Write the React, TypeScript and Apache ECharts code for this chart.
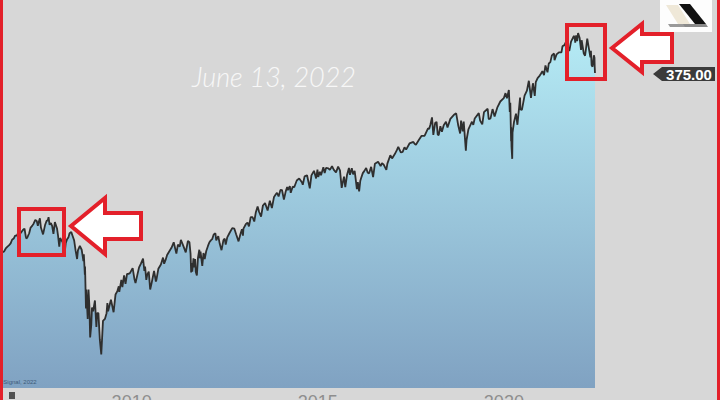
import React, { useEffect, useRef } from "react";
import * as echarts from "echarts";

const priceHistory: [string, number][] = [
  ["2006-07-19", 126.5], ["2006-08-01", 127.5], ["2006-08-15", 129.5], ["2006-09-01", 131], ["2006-09-15", 132],
  ["2006-10-02", 133.5], ["2006-10-16", 136.5], ["2006-11-01", 137.5], ["2006-11-15", 140], ["2006-12-01", 140], ["2006-12-15", 142.3],
  ["2007-01-02", 141.6], ["2007-01-16", 143], ["2007-02-01", 145], ["2007-02-15", 146], ["2007-02-27", 139.5], ["2007-03-05", 137.5],
  ["2007-03-15", 138.5], ["2007-04-02", 142], ["2007-04-16", 147], ["2007-05-01", 148.5], ["2007-05-15", 150.5], ["2007-06-01", 154],
  ["2007-06-15", 153], ["2007-06-26", 148.5], ["2007-07-02", 151], ["2007-07-16", 155.5], ["2007-07-26", 147], ["2007-08-01", 147],
  ["2007-08-16", 141], ["2007-09-04", 149], ["2007-09-19", 153], ["2007-10-01", 153.5], ["2007-10-09", 156.5], ["2007-10-19", 149.5],
  ["2007-11-01", 151], ["2007-11-13", 148.5], ["2007-11-26", 141.5], ["2007-12-10", 152], ["2007-12-31", 146.2],
  ["2008-01-02", 144.9], ["2008-01-10", 140], ["2008-01-22", 131], ["2008-01-31", 138], ["2008-02-12", 136], ["2008-02-22", 135],
  ["2008-03-10", 128.5], ["2008-03-17", 127.5], ["2008-03-26", 134], ["2008-04-08", 137], ["2008-04-21", 138.5], ["2008-05-02", 142],
  ["2008-05-19", 143], ["2008-06-02", 139.5], ["2008-06-16", 136], ["2008-06-30", 128], ["2008-07-15", 121.5], ["2008-07-23", 128],
  ["2008-08-11", 131.5], ["2008-08-29", 128.5], ["2008-09-15", 120], ["2008-09-19", 125], ["2008-09-29", 110.5], ["2008-10-01", 116],
  ["2008-10-10", 90], ["2008-10-13", 101], ["2008-10-27", 84.5], ["2008-11-04", 101], ["2008-11-13", 91], ["2008-11-20", 75.5],
  ["2008-12-01", 81.5], ["2008-12-08", 90.5], ["2008-12-19", 88.5],
  ["2009-01-06", 94.5], ["2009-01-20", 80.5], ["2009-01-28", 87.5], ["2009-02-09", 87.5], ["2009-02-23", 74.5], ["2009-03-09", 68.1],
  ["2009-03-26", 83.5], ["2009-04-14", 84.5], ["2009-04-30", 87.5], ["2009-05-08", 93], ["2009-05-15", 88.5], ["2009-06-12", 95],
  ["2009-07-08", 88], ["2009-07-27", 98], ["2009-08-14", 100], ["2009-08-28", 103], ["2009-09-02", 99.5], ["2009-09-22", 107],
  ["2009-10-02", 102.5], ["2009-10-19", 110], ["2009-11-02", 104.5], ["2009-11-17", 111], ["2009-12-01", 111], ["2009-12-15", 111.5],
  ["2010-01-11", 115], ["2010-01-29", 107.4], ["2010-02-08", 105], ["2010-02-25", 110], ["2010-03-15", 115.5], ["2010-04-01", 118],
  ["2010-04-23", 121.8], ["2010-05-06", 113], ["2010-05-13", 116], ["2010-05-25", 107], ["2010-06-03", 110.5], ["2010-06-18", 112.5],
  ["2010-07-02", 101], ["2010-07-16", 105], ["2010-08-09", 113], ["2010-08-27", 106], ["2010-09-01", 107], ["2010-09-20", 114.5],
  ["2010-10-15", 117.5], ["2010-11-05", 122.5], ["2010-11-16", 118], ["2010-12-01", 121], ["2010-12-15", 124.5],
  ["2011-01-03", 127], ["2011-01-27", 130], ["2011-02-18", 134.5], ["2011-03-16", 125.5], ["2011-03-31", 132.5], ["2011-04-18", 131],
  ["2011-04-29", 136.5], ["2011-05-23", 131.5], ["2011-06-16", 126.5], ["2011-07-07", 135.5], ["2011-07-22", 134.5], ["2011-08-02", 125.5],
  ["2011-08-08", 112], ["2011-08-12", 118.5], ["2011-08-19", 112.5], ["2011-08-31", 122], ["2011-09-09", 115.5], ["2011-09-16", 121.5],
  ["2011-09-22", 112.5], ["2011-10-03", 109.9], ["2011-10-14", 122.5], ["2011-10-27", 128.5], ["2011-11-01", 122], ["2011-11-08", 127],
  ["2011-11-25", 116.5], ["2011-12-07", 126], ["2011-12-19", 121.5],
  ["2012-01-03", 127.5], ["2012-01-20", 131.5], ["2012-02-03", 134.5], ["2012-02-17", 136], ["2012-03-01", 137], ["2012-03-16", 141],
  ["2012-04-02", 142], ["2012-04-10", 136], ["2012-04-30", 139.5], ["2012-05-15", 133], ["2012-06-01", 128.2], ["2012-06-19", 136],
  ["2012-07-02", 137.5], ["2012-07-12", 132.5], ["2012-07-27", 138.5], ["2012-08-17", 142], ["2012-09-14", 146.5], ["2012-10-05", 146],
  ["2012-10-23", 141], ["2012-11-15", 135.2], ["2012-12-03", 141.2], ["2012-12-18", 145.5], ["2012-12-28", 140],
  ["2013-01-02", 146], ["2013-01-25", 150], ["2013-02-11", 151.5], ["2013-02-25", 148], ["2013-03-14", 156.5], ["2013-04-02", 156.5],
  ["2013-04-18", 152.5], ["2013-05-03", 161], ["2013-05-21", 167], ["2013-06-05", 161.5], ["2013-06-24", 157], ["2013-07-12", 168],
  ["2013-08-02", 170.5], ["2013-08-27", 163], ["2013-09-18", 173], ["2013-10-08", 165.5], ["2013-10-29", 177], ["2013-11-14", 179.5],
  ["2013-11-27", 181.5], ["2013-12-13", 177.5], ["2013-12-31", 184.7],
  ["2014-01-15", 184.5], ["2014-02-03", 174.2], ["2014-02-21", 183], ["2014-03-07", 188], ["2014-03-14", 184.5], ["2014-04-02", 189],
  ["2014-04-11", 181.5], ["2014-04-30", 188.3], ["2014-05-15", 187.7], ["2014-06-09", 195.5], ["2014-07-03", 198], ["2014-07-31", 193.1],
  ["2014-08-07", 190.5], ["2014-08-25", 200.5], ["2014-09-18", 201.8], ["2014-10-01", 194.3], ["2014-10-15", 186.4], ["2014-10-31", 201.7],
  ["2014-11-25", 207.3], ["2014-12-16", 197.9], ["2014-12-29", 208.9],
  ["2015-01-06", 199.8], ["2015-01-22", 206], ["2015-02-02", 201.9], ["2015-02-25", 211.8], ["2015-03-10", 204.4], ["2015-03-23", 210.9],
  ["2015-04-15", 210.4], ["2015-04-30", 208.5], ["2015-05-21", 213.1], ["2015-06-08", 208.5], ["2015-06-29", 205.4], ["2015-07-20", 212.6],
  ["2015-08-07", 207.9], ["2015-08-24", 187], ["2015-09-01", 191.8], ["2015-09-16", 200.2], ["2015-09-28", 187.9], ["2015-10-15", 202],
  ["2015-11-03", 211], ["2015-11-13", 202.4], ["2015-12-01", 210.6], ["2015-12-14", 202.9], ["2015-12-29", 207.4],
  ["2016-01-04", 201.4], ["2016-01-20", 185.6], ["2016-01-29", 193.7], ["2016-02-11", 182.9], ["2016-02-22", 194.8], ["2016-03-01", 198.1],
  ["2016-03-18", 204.4], ["2016-04-01", 206.9], ["2016-04-20", 210.8], ["2016-05-05", 204.9], ["2016-05-19", 204.2], ["2016-06-08", 212.4],
  ["2016-06-27", 199.6], ["2016-07-15", 216.4], ["2016-08-15", 219.1], ["2016-09-09", 213.3], ["2016-09-22", 217.1], ["2016-10-10", 215],
  ["2016-11-04", 208.6], ["2016-11-14", 216.6], ["2016-12-13", 227.8], ["2016-12-30", 223.5],
  ["2017-01-26", 229.4], ["2017-02-15", 234.9], ["2017-03-01", 239.8], ["2017-03-27", 231.6], ["2017-04-13", 232.5], ["2017-05-01", 239],
  ["2017-05-17", 235.8], ["2017-06-19", 244.7], ["2017-07-27", 247], ["2017-08-10", 243.8], ["2017-08-21", 242.8], ["2017-09-20", 250.1],
  ["2017-10-16", 256.3], ["2017-11-15", 256.4], ["2017-12-18", 268.2], ["2017-12-29", 266.9],
  ["2018-01-10", 274.1], ["2018-01-26", 286.6], ["2018-02-08", 257.6], ["2018-02-26", 277], ["2018-03-12", 278.9], ["2018-03-23", 258],
  ["2018-04-02", 257.5], ["2018-04-18", 271.6], ["2018-05-03", 262.6], ["2018-05-21", 273.4], ["2018-06-12", 279], ["2018-06-27", 269.4],
  ["2018-07-25", 284], ["2018-08-29", 291], ["2018-09-20", 293.6], ["2018-10-11", 272.2], ["2018-10-29", 259.9], ["2018-11-07", 281],
  ["2018-11-23", 263.3], ["2018-12-03", 279.3], ["2018-12-24", 234.3], ["2018-12-31", 249.9],
  ["2019-01-18", 266.5], ["2019-02-22", 279.1], ["2019-03-07", 274], ["2019-03-21", 284.7], ["2019-04-30", 294], ["2019-05-13", 280.9],
  ["2019-06-03", 274.6], ["2019-06-20", 295.9], ["2019-07-26", 302], ["2019-08-05", 283.8], ["2019-08-14", 283.9], ["2019-08-23", 284.9],
  ["2019-09-12", 301.3], ["2019-10-02", 288.1], ["2019-10-28", 303.9], ["2019-11-27", 315.5], ["2019-12-31", 321.9],
  ["2020-01-17", 331.9], ["2020-01-31", 321.7], ["2020-02-19", 338.3], ["2020-02-28", 296.3], ["2020-03-04", 312.9], ["2020-03-12", 248.1],
  ["2020-03-13", 269.3], ["2020-03-16", 239.9], ["2020-03-23", 222.9], ["2020-03-26", 261.2], ["2020-04-09", 278.2], ["2020-04-29", 293.2],
  ["2020-05-13", 274], ["2020-06-08", 323.2], ["2020-06-11", 300.6], ["2020-06-26", 300], ["2020-07-22", 326.8], ["2020-08-14", 336.8],
  ["2020-09-02", 357.7], ["2020-09-23", 322.6], ["2020-10-12", 352.4], ["2020-10-30", 326.5], ["2020-11-09", 354.6], ["2020-11-27", 363.7],
  ["2020-12-18", 369.2], ["2020-12-31", 373.9],
  ["2021-01-13", 379.2], ["2021-01-29", 370.1], ["2021-02-12", 392.6], ["2021-03-04", 376.7], ["2021-03-17", 397.3], ["2021-04-01", 400.6],
  ["2021-04-16", 417.3], ["2021-05-07", 422.1], ["2021-05-12", 405.4], ["2021-06-01", 419.7], ["2021-06-24", 425.1], ["2021-07-19", 425],
  ["2021-07-29", 440.7], ["2021-08-17", 444], ["2021-09-02", 453.2], ["2021-09-20", 434], ["2021-10-04", 428.6], ["2021-10-21", 453.6],
  ["2021-11-18", 469.7], ["2021-11-30", 455.6], ["2021-12-01", 450.5], ["2021-12-10", 470.7], ["2021-12-20", 455], ["2021-12-29", 477.5],
  ["2022-01-03", 477.7], ["2022-01-13", 464.5], ["2022-01-27", 431.2], ["2022-02-02", 457.4], ["2022-02-23", 422], ["2022-03-08", 416.3],
  ["2022-03-29", 461.6], ["2022-04-11", 439.9], ["2022-04-29", 412], ["2022-05-04", 429.1], ["2022-05-11", 392.8], ["2022-05-20", 389.6],
  ["2022-06-02", 417.4], ["2022-06-08", 411.2], ["2022-06-10", 389.8], ["2022-06-13", 375.0],
];

const yearLabels = [2010, 2015, 2020];
const lastPriceLabel = "375.00";
const dateTitle = "June 13, 2022";
const sourceNote = "eSignal, 2022";

const xMin = "2006-07-19";
const xMax = "2025-09-22";
const yMin = 55.6;
const yMax = 583.6;

const RED = "#e3202a";

export default function App() {
  const ref = useRef<HTMLDivElement>(null);

  useEffect(() => {
    if (!ref.current) return;
    const chart = echarts.init(ref.current, undefined, { renderer: "svg" });
    const YEAR = 365.25 * 24 * 3600 * 1000;
    chart.setOption({
      animation: false,
      backgroundColor: "#d7d7d7",
      grid: { left: 3, right: 3, top: 0, bottom: 12, containLabel: false, outerBoundsMode: "none" },
      xAxis: {
        type: "time",
        min: +new Date(xMin),
        max: +new Date(xMax),
        minInterval: YEAR,
        maxInterval: YEAR,
        axisLine: { show: false },
        axisTick: { show: false },
        splitLine: { show: false },
        axisLabel: {
          show: true,
          interval: 0,
          hideOverlap: false,
          margin: 5,
          color: "#8e8e8e",
          fontSize: 18,
          fontFamily: "Liberation Sans, Arial, sans-serif",
          formatter: (val: number) => {
            const d = new Date(val);
            const y = d.getFullYear();
            return yearLabels.includes(y) && d.getMonth() === 0 && d.getDate() === 1 ? String(y) : "";
          },
        },
      },
      yAxis: {
        type: "log",
        min: yMin,
        max: yMax,
        show: false,
        splitLine: { show: false },
      },
      series: [
        {
          type: "line",
          data: priceHistory,
          showSymbol: false,
          symbol: "none",
          lineStyle: { color: "#2f2f2f", width: 1.8 },
          areaStyle: {
            origin: "start",
            color: new echarts.graphic.LinearGradient(0, 0, 0, 1, [
              { offset: 0, color: "#b5ebf5" },
              { offset: 1, color: "#80a2c2" },
            ]),
            opacity: 1,
          },
        },
      ],
      graphic: [
        // annotations
        { type: "rect", z: 100, shape: { x: 19, y: 209, width: 45, height: 46 }, style: { fill: "none", stroke: RED, lineWidth: 4 } },
        { type: "rect", z: 100, shape: { x: 567, y: 25, width: 38, height: 54 }, style: { fill: "none", stroke: RED, lineWidth: 4 } },
        {
          type: "polygon", z: 100,
          shape: { points: [[71, 226], [105, 198], [105, 213], [141, 213], [141, 239], [105, 239], [105, 254]] },
          style: { fill: "#ffffff", stroke: RED, lineWidth: 4, lineJoin: "miter" },
        },
        {
          type: "polygon", z: 100,
          shape: { points: [[612, 48], [642, 24], [642, 34], [672, 34], [672, 62], [642, 62], [642, 72]] },
          style: { fill: "#ffffff", stroke: RED, lineWidth: 4, lineJoin: "miter" },
        },
        {
          type: "text", z: 100, x: 192, y: 76,
          style: {
            text: dateTitle, fill: "#f7f7f7", fontSize: 27, fontStyle: "italic", fontWeight: 300,
            fontFamily: "Lato, 'Open Sans', sans-serif", verticalAlign: "middle", align: "left",
          },
        },
        // last price tag
        {
          type: "polygon", z: 100,
          shape: { points: [[653, 74], [662, 67], [715, 67], [715, 81], [662, 81]] },
          style: { fill: "#3b3b3b" },
        },
        {
          type: "text", z: 101, x: 689, y: 74.5,
          style: {
            text: lastPriceLabel, fill: "#ffffff", fontSize: 15, fontWeight: "bold",
            fontFamily: "Liberation Sans, Arial, sans-serif", align: "center", verticalAlign: "middle",
          },
        },
        // logo
        { type: "rect", z: 100, shape: { x: 660, y: 0, width: 52, height: 32 }, style: { fill: "#fdfdfd" } },
        { type: "polygon", z: 101, shape: { points: [[668, 24], [690, 24], [692, 27], [670, 27]] }, style: { fill: "#9a9a9a" } },
        { type: "polygon", z: 101, shape: { points: [[666, 5], [678, 5], [690, 24], [678, 24]] }, style: { fill: "#efe8d8" } },
        { type: "polygon", z: 101, shape: { points: [[683, 24], [706, 24], [708, 27], [685, 27]] }, style: { fill: "#8a8a8a" } },
        { type: "polygon", z: 102, shape: { points: [[679, 4], [690, 4], [706, 24], [695, 24]] }, style: { fill: "#111111" } },
        // source note and small icon
        {
          type: "text", z: 100, x: 0, y: 382,
          style: { text: sourceNote, fill: "#3d5b7a", fontSize: 6, fontFamily: "Liberation Sans, Arial, sans-serif", verticalAlign: "middle" },
        },
        { type: "rect", z: 100, shape: { x: 9, y: 392, width: 6, height: 7 }, style: { fill: "#505050" } },
        // frame borders
        { type: "rect", z: 110, shape: { x: 0, y: 0, width: 3, height: 400 }, style: { fill: RED } },
        { type: "rect", z: 110, shape: { x: 717, y: 0, width: 3, height: 400 }, style: { fill: RED } },
      ],
    });
    return () => chart.dispose();
  }, []);

  return (
    <div
      ref={ref}
      style={{ position: "fixed", left: 0, top: 0, width: 720, height: 400 }}
    />
  );
}
